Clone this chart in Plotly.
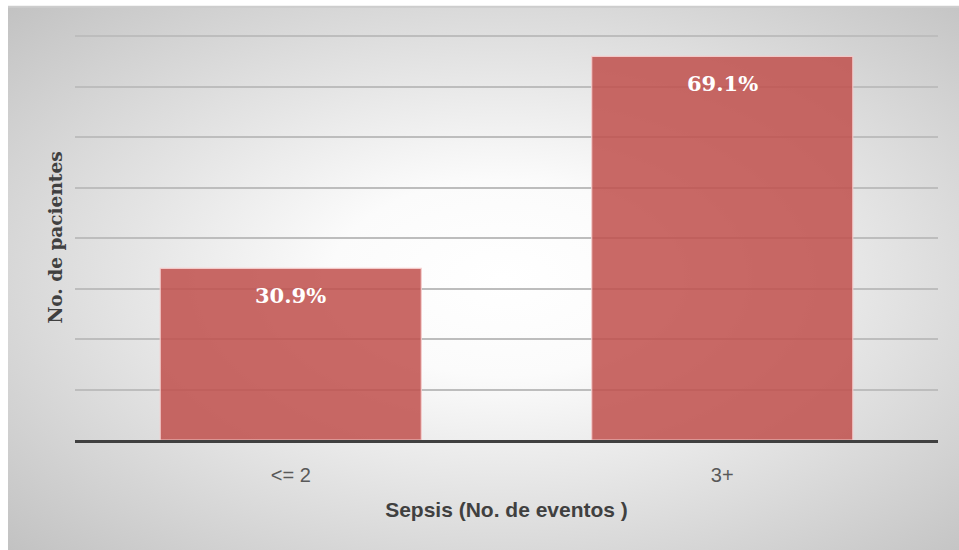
import base64
import plotly.graph_objects as go

categories = ["<= 2", "3+"]
patients = [34, 76]
labels = ["30.9%", "69.1%"]
y_ticks = [0, 10, 20, 30, 40, 50, 60, 70, 80]

W, H = 959, 550
L, R, T, B = 75, 21, 35, 110
pw, ph = W - L - R, H - T - B

svg = (
    '<svg xmlns="http://www.w3.org/2000/svg" width="951" height="544" preserveAspectRatio="none">'
    '<defs><radialGradient id="g" cx="0.52" cy="0.5" r="0.72">'
    '<stop offset="0" stop-color="#ffffff"/>'
    '<stop offset="0.25" stop-color="#fbfbfb"/>'
    '<stop offset="1" stop-color="#c2c2c2"/>'
    '</radialGradient></defs>'
    '<rect width="951" height="544" fill="url(#g)"/></svg>'
)
src = "data:image/svg+xml;base64," + base64.b64encode(svg.encode()).decode()

# chart area in page pixels: x 8..959, y 6..550
x0 = (8 - L) / pw
x1 = (W - L) / pw
y1 = (H - B - 6) / ph
y0 = -B / ph

fig = go.Figure()
fig.add_trace(go.Bar(
    x=categories, y=patients,
    marker=dict(color="rgba(192,80,77,0.86)",
                line=dict(color="rgba(245,205,205,0.9)", width=1.2)),
    hoverinfo="skip",
))

for c, v, t in zip(categories, patients, labels):
    fig.add_annotation(x=c, y=v, text="<b>" + t + "</b>", showarrow=False,
                       yanchor="top", yshift=-13,
                       font=dict(family="DejaVu Serif", size=21, color="white"))

fig.update_layout(
    width=W, height=H,
    margin=dict(l=L, r=R, t=T, b=B),
    paper_bgcolor="white", plot_bgcolor="rgba(0,0,0,0)",
    bargap=0.395, showlegend=False,
    images=[dict(source=src, xref="paper", yref="paper", x=x0, y=y1,
                 sizex=x1 - x0, sizey=y1 - y0, sizing="stretch",
                 xanchor="left", yanchor="top", layer="below")],
    shapes=[dict(type="line", xref="paper", yref="paper", x0=x0, x1=x1,
                 y0=y1 - 0.002, y1=y1 - 0.002, line=dict(color="#cdcdcd", width=2),
                 layer="below")],
    xaxis=dict(
        showgrid=False, showline=True, linecolor="#404040", linewidth=3,
        ticks="", ticklabelstandoff=15,
        tickfont=dict(family="Liberation Sans", size=20, color="#595959"),
        title=dict(text="Sepsis (No. de eventos )", standoff=18,
                   font=dict(family="Liberation Sans", size=21, color="#404040",
                             weight="bold")),
    ),
    yaxis=dict(
        range=[0, 80.25], tickvals=y_ticks, showticklabels=False,
        showgrid=True, gridcolor="#bdbdbd", gridwidth=1.5, zeroline=False,
        title=dict(text="No. de pacientes", standoff=6,
                   font=dict(family="DejaVu Serif", size=18.5, color="#404040",
                             weight="bold")),
    ),
)

fig.write_html("out.html", config={"displayModeBar": False},
               post_script="document.body.style.margin='0';document.body.style.overflow='hidden';")
